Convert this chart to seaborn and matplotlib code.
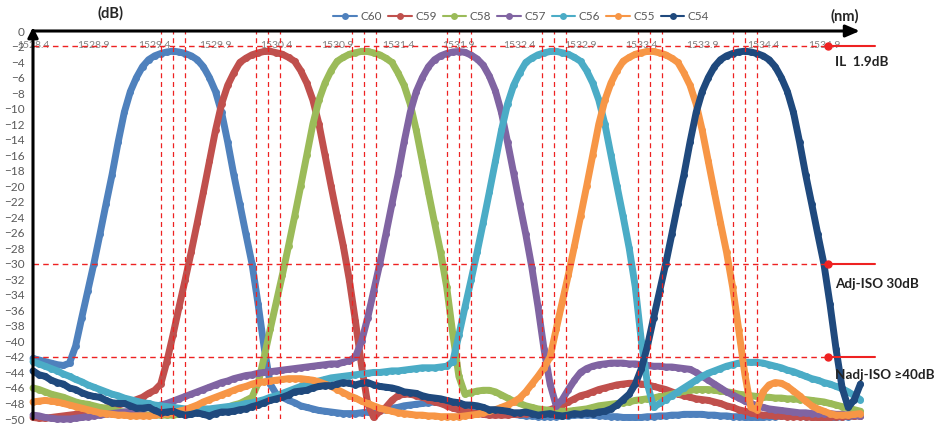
import matplotlib
matplotlib.use("Agg")
import matplotlib.pyplot as plt
import numpy as np
import pandas as pd
import seaborn as sns

# wavelength sampling of the spectra (nm), 0.05 nm steps from 1528.40 to 1535.20
wavelength = np.round(1528.4 + 0.05 * np.arange(137), 2)

channels = ["C60", "C59", "C58", "C57", "C56", "C55", "C54"]
colors = ["#4F81BD", "#C0504D", "#9BBB59", "#8064A2", "#4BACC6", "#F79646", "#1F497D"]

# insertion loss (dB)
c60 = [-42.2, -42.4, -42.6, -42.8, -43.0, -43.1, -42.8, -40.6, -37.0, -33.5,
       -30.0, -26.2, -22.3, -18.5, -14.3, -10.5, -7.8, -6.0, -4.6, -3.7,
       -3.2, -2.9, -2.7, -2.6, -2.7, -2.9, -3.2, -3.7, -4.6, -6.0,
       -7.8, -10.5, -14.3, -18.5, -22.3, -26.2, -30.0, -35.2, -40.8, -45.5,
       -46.8, -47.2, -47.6, -47.9, -48.3, -48.5, -48.7, -48.9, -49.0, -49.1,
       -49.2, -49.3, -49.3, -49.3, -49.2, -49.1, -49.0, -48.9, -48.8, -48.6,
       -48.5, -48.3, -48.2, -48.1, -48.0, -47.9, -47.8, -47.8, -47.8, -47.9,
       -48.0, -48.2, -48.3, -48.5, -48.7, -48.9, -49.0, -49.2, -49.3, -49.4,
       -49.5, -49.6, -49.6, -49.7, -49.7, -49.7, -49.7, -49.6, -49.6, -49.5,
       -49.5, -49.5, -49.5, -49.6, -49.6, -49.7, -49.7, -49.8, -49.8, -49.8,
       -49.8, -49.7, -49.7, -49.6, -49.6, -49.5, -49.5, -49.4, -49.4, -49.4,
       -49.4, -49.5, -49.5, -49.6, -49.6, -49.7, -49.7, -49.8, -49.8, -49.8,
       -49.8, -49.7, -49.7, -49.6, -49.6, -49.6, -49.6, -49.7, -49.7, -49.8,
       -49.8, -49.8, -49.8, -49.7, -49.7, -49.6, -49.6]
c59 = [-49.8, -49.9, -49.9, -49.8, -49.7, -49.6, -49.5, -49.4, -49.3, -49.1,
       -49.0, -48.8, -48.6, -48.4, -48.2, -48.0, -47.8, -47.5, -47.2, -46.7,
       -46.3, -45.5, -42.6, -39.2, -35.6, -32.1, -28.5, -24.7, -20.8, -16.8,
       -12.8, -9.4, -7.0, -5.4, -4.05, -3.5, -3.07, -2.82, -2.64, -2.62,
       -2.8, -3.0, -3.4, -3.9, -5.1, -6.7, -8.9, -12.0, -16.0, -20.0,
       -23.9, -27.7, -32.1, -37.4, -43.1, -48.0, -49.8, -49.0, -48.5, -47.6,
       -47.0, -46.8, -46.8, -47.0, -47.2, -47.5, -47.8, -48.0, -48.3, -48.6,
       -48.8, -49.0, -49.2, -49.3, -49.4, -49.5, -49.5, -49.5, -49.5, -49.4,
       -49.4, -49.3, -49.3, -49.2, -49.0, -48.8, -48.5, -48.2, -47.8, -47.4,
       -47.0, -46.8, -46.5, -46.2, -46.0, -45.8, -45.6, -45.5, -45.4, -45.4,
       -45.5, -45.6, -45.8, -46.0, -46.2, -46.5, -46.8, -47.0, -47.2, -47.4,
       -47.5, -47.6, -47.8, -48.0, -48.3, -48.5, -48.8, -49.0, -49.2, -49.4,
       -49.5, -49.5, -49.6, -49.6, -49.7, -49.7, -49.7, -49.7, -49.8, -49.8,
       -49.8, -49.8, -49.7, -49.7, -49.6, -49.6, -49.6]
c58 = [-46.0, -46.2, -46.5, -46.8, -47.0, -47.2, -47.5, -47.8, -48.0, -48.1,
       -48.3, -48.5, -48.6, -48.8, -49.0, -49.1, -49.2, -49.3, -49.4, -49.5,
       -49.5, -49.5, -49.5, -49.5, -49.4, -49.3, -49.2, -49.1, -49.0, -48.9,
       -48.8, -48.6, -48.5, -48.2, -48.0, -47.6, -47.2, -45.4, -42.0, -38.4,
       -34.9, -31.4, -27.7, -23.9, -20.0, -16.0, -12.0, -8.9, -6.7, -5.1,
       -3.9, -3.4, -3.0, -2.8, -2.62, -2.64, -2.82, -3.07, -3.5, -4.05,
       -5.4, -7.0, -9.4, -12.8, -16.8, -20.8, -24.7, -28.5, -33.0, -39.0,
       -44.5, -46.8, -46.6, -46.4, -46.3, -46.3, -46.5, -46.9, -47.3, -47.7,
       -48.0, -48.3, -48.5, -48.7, -48.8, -48.9, -49.0, -49.0, -49.0, -48.9,
       -48.8, -48.7, -48.5, -48.3, -48.2, -48.1, -48.0, -47.9, -47.8, -47.6,
       -47.5, -47.4, -47.3, -47.1, -47.0, -46.8, -46.6, -46.4, -46.3, -46.2,
       -46.2, -46.2, -46.3, -46.4, -46.5, -46.6, -46.8, -46.9, -47.0, -47.1,
       -47.2, -47.2, -47.3, -47.3, -47.4, -47.4, -47.5, -47.5, -47.6, -47.7,
       -47.8, -48.0, -48.2, -48.4, -48.6, -48.8, -49.0]
c57 = [-49.5, -49.6, -49.8, -49.9, -50.0, -50.0, -50.0, -49.9, -49.8, -49.7,
       -49.6, -49.5, -49.4, -49.3, -49.2, -49.1, -49.0, -48.8, -48.7, -48.5,
       -48.4, -48.2, -48.0, -47.7, -47.4, -47.1, -46.8, -46.5, -46.2, -45.9,
       -45.6, -45.3, -45.1, -44.8, -44.6, -44.4, -44.3, -44.1, -44.0, -43.9,
       -43.8, -43.7, -43.6, -43.5, -43.4, -43.3, -43.2, -43.1, -43.0, -42.9,
       -42.9, -42.7, -42.5, -42.0, -40.0, -37.0, -33.5, -30.0, -26.2, -22.3,
       -18.5, -14.3, -10.5, -7.8, -6.0, -4.6, -3.7, -3.2, -2.9, -2.7,
       -2.65, -2.75, -3.1, -3.6, -4.4, -5.8, -7.7, -10.5, -14.3, -18.3,
       -22.3, -26.2, -30.5, -35.5, -41.0, -45.5, -48.3, -47.5, -46.2, -45.0,
       -44.0, -43.5, -43.2, -43.0, -42.9, -42.8, -42.8, -42.8, -42.9, -42.9,
       -43.0, -43.1, -43.2, -43.2, -43.3, -43.3, -43.4, -43.5, -43.6, -44.0,
       -44.5, -45.0, -45.5, -46.0, -46.5, -46.9, -47.3, -47.7, -48.0, -48.3,
       -48.5, -48.7, -48.8, -48.9, -49.0, -49.1, -49.2, -49.2, -49.3, -49.3,
       -49.3, -49.3, -49.4, -49.4, -49.5, -49.5, -49.6]
c56 = [-42.6, -42.9, -43.2, -43.5, -43.8, -44.2, -44.5, -44.9, -45.2, -45.6,
       -45.9, -46.2, -46.5, -46.8, -47.0, -47.3, -47.5, -47.7, -47.9, -48.0,
       -48.2, -48.3, -48.4, -48.5, -48.6, -48.7, -48.7, -48.7, -48.7, -48.7,
       -48.6, -48.5, -48.4, -48.3, -48.2, -48.0, -47.9, -47.7, -47.5, -47.2,
       -47.0, -46.7, -46.4, -46.1, -45.8, -45.5, -45.3, -45.1, -44.9, -44.7,
       -44.6, -44.5, -44.4, -44.3, -44.2, -44.1, -44.0, -44.0, -43.9, -43.8,
       -43.8, -43.7, -43.6, -43.5, -43.4, -43.4, -43.4, -43.3, -43.2, -42.6,
       -39.2, -35.6, -32.1, -28.5, -24.7, -20.8, -16.8, -12.8, -9.4, -7.0,
       -5.4, -4.05, -3.5, -3.07, -2.82, -2.64, -2.62, -2.8, -3.0, -3.4,
       -3.9, -5.1, -6.7, -8.9, -12.0, -16.0, -20.0, -23.9, -28.0, -33.0,
       -40.0, -45.5, -48.5, -48.0, -47.5, -47.0, -46.5, -46.0, -45.5, -45.0,
       -44.5, -44.1, -43.8, -43.5, -43.2, -43.0, -42.8, -42.7, -42.7, -42.7,
       -42.8, -43.0, -43.2, -43.4, -43.7, -43.9, -44.2, -44.5, -44.8, -45.0,
       -45.3, -45.5, -45.8, -46.1, -46.5, -47.0, -47.5]
c55 = [-47.8, -47.7, -47.6, -47.7, -47.8, -48.0, -48.2, -48.4, -48.6, -48.8,
       -49.0, -49.2, -49.3, -49.4, -49.5, -49.5, -49.6, -49.6, -49.6, -49.6,
       -49.5, -49.4, -49.3, -49.2, -49.0, -48.8, -48.5, -48.2, -47.8, -47.5,
       -47.2, -46.9, -46.6, -46.3, -46.0, -45.8, -45.5, -45.3, -45.2, -45.1,
       -45.0, -44.9, -44.8, -44.8, -44.8, -44.9, -45.0, -45.2, -45.5, -45.8,
       -46.2, -46.6, -47.0, -47.3, -47.7, -48.0, -48.3, -48.6, -48.8, -49.0,
       -49.2, -49.3, -49.4, -49.5, -49.5, -49.6, -49.6, -49.7, -49.7, -49.7,
       -49.7, -49.6, -49.5, -49.4, -49.2, -49.0, -48.8, -48.5, -48.2, -47.8,
       -47.3, -46.5, -45.5, -44.5, -43.4, -42.0, -38.4, -34.9, -31.4, -27.7,
       -23.9, -20.0, -16.0, -12.0, -8.9, -6.7, -5.1, -3.9, -3.4, -3.0,
       -2.8, -2.62, -2.64, -2.82, -3.07, -3.5, -4.05, -5.4, -7.0, -9.4,
       -12.8, -16.8, -20.8, -24.7, -28.5, -33.0, -38.5, -44.2, -48.5, -48.8,
       -46.5, -45.6, -45.3, -45.4, -45.8, -46.4, -47.0, -47.7, -48.3, -48.7,
       -49.0, -49.3, -49.5, -49.5, -49.5, -49.4, -49.3]
c54 = [-43.8, -44.3, -44.5, -45.0, -45.3, -45.5, -46.0, -46.2, -46.6, -46.9,
       -47.1, -47.2, -47.6, -47.9, -48.0, -48.0, -48.3, -48.6, -48.6, -48.5,
       -48.9, -49.2, -49.1, -49.0, -49.3, -49.5, -49.4, -49.2, -49.4, -49.6,
       -49.3, -49.1, -49.1, -49.0, -48.8, -48.7, -48.4, -48.2, -47.9, -47.6,
       -47.4, -47.2, -46.9, -46.5, -46.4, -46.3, -46.0, -45.8, -45.7, -45.7,
       -45.5, -45.3, -45.4, -45.6, -45.4, -45.3, -45.6, -45.8, -45.9, -46.0,
       -46.2, -46.5, -46.6, -46.7, -47.0, -47.2, -47.3, -47.4, -47.6, -47.8,
       -47.9, -48.2, -48.2, -48.3, -48.5, -48.8, -48.8, -48.9, -49.0, -49.2,
       -49.2, -49.1, -49.3, -49.5, -49.4, -49.3, -49.5, -49.6, -49.5, -49.3,
       -49.4, -49.2, -49.3, -49.1, -49.0, -48.7, -48.2, -47.5, -46.8, -45.5,
       -43.5, -40.6, -37.0, -33.5, -30.0, -26.2, -22.3, -18.5, -14.3, -10.5,
       -7.8, -6.0, -4.6, -3.7, -3.2, -2.9, -2.7, -2.6, -2.7, -2.9,
       -3.2, -3.7, -4.6, -6.0, -7.8, -10.5, -14.3, -18.5, -22.3, -26.2,
       -30.0, -35.2, -41.0, -46.0, -48.5, -47.5, -45.5]
series = [c60, c59, c58, c57, c56, c55, c54]

# ITU channel centres and passband edges (nm)
centers = [1529.55, 1530.33, 1531.12, 1531.90, 1532.68, 1533.47, 1534.25]
passband = 0.1

ref_levels = [-1.9, -30, -42]
ref_labels = ["IL  1.9dB", "Adj-ISO 30dB", "Nadj-ISO \u226540dB"]
ref_label_y = [-4.0, -32.6, -44.3]
ref_end = 1534.93

x_ticks = [1528.4, 1528.9, 1529.4, 1529.9, 1530.4, 1530.9, 1531.4,
           1531.9, 1532.4, 1532.9, 1533.4, 1533.9, 1534.4, 1534.9]
y_ticks = list(range(0, -51, -2))

sns.set_theme(style="white")
plt.rcParams["font.family"] = ["Lato", "DejaVu Sans"]

df = pd.DataFrame({
    "wavelength": np.tile(wavelength, len(channels)),
    "loss": np.concatenate(series),
    "channel": np.repeat(channels, len(wavelength)),
})

red = "#EE2222"
fig = plt.figure(figsize=(9.4, 4.29), dpi=100)
ax = fig.add_axes([33 / 940, 10 / 429, 842 / 940, 388 / 429])

sns.lineplot(data=df, x="wavelength", y="loss", hue="channel", hue_order=channels,
             palette=dict(zip(channels, colors)), linewidth=5, marker="o",
             markersize=5, markeredgewidth=0, estimator=None, sort=False,
             ax=ax, clip_on=False, zorder=2)

# red reference lines
for c in centers:
    for d in (-passband, 0, passband):
        ax.axvline(c + d, color=red, lw=0.9, ls=(0, (4, 3)), zorder=3)
for y in ref_levels:
    ax.plot([x_ticks[0], ref_end], [y, y], color=red, lw=1, ls=(0, (4, 3)), zorder=3)
    ax.plot([ref_end, 1535.32], [y, y], color=red, lw=1.5, zorder=3, clip_on=False)
    ax.plot([ref_end], [y], "o", color=red, ms=5, zorder=3, clip_on=False)
for lab, y in zip(ref_labels, ref_label_y):
    ax.text(0.9525, y, lab, transform=ax.get_yaxis_transform(), ha="left", va="center",
            fontsize=9.7, fontweight="bold", color="#222222", clip_on=False)

ax.set_xlim(1528.4, 1535.32)
ax.set_ylim(-50, 0)
ax.set_xticks(x_ticks)
ax.set_xticklabels([f"{v:.1f}" for v in x_ticks])
ax.set_yticks(y_ticks)
ax.tick_params(axis="x", bottom=False, labelbottom=False, top=False, labeltop=True,
               length=0, pad=-14, labelsize=7.5, labelcolor="#808080")
ax.tick_params(axis="y", left=False, length=0, pad=6, labelsize=8.5, labelcolor="#595959")
ax.set_xlabel("")
ax.set_ylabel("")
for s in ax.spines.values():
    s.set_visible(False)

# axis arrows
ax.annotate("", xy=(0.982, 1), xytext=(0, 1), xycoords="axes fraction",
            arrowprops=dict(arrowstyle="-|>,head_length=0.7,head_width=0.3",
                            color="black", lw=2.2, shrinkA=0, shrinkB=0))
ax.annotate("", xy=(0, 1.01), xytext=(0, 0), xycoords="axes fraction",
            arrowprops=dict(arrowstyle="-|>,head_length=0.5,head_width=0.25",
                            color="black", lw=2.2, shrinkA=0, shrinkB=0))
fig.text(111 / 940, 1 - 13 / 429, "(dB)", ha="center", va="center", fontsize=10.5, fontweight="bold")
fig.text(845 / 940, 1 - 16 / 429, "(nm)", ha="center", va="center", fontsize=10.5, fontweight="bold")

handles, labels = ax.get_legend_handles_labels()
leg = ax.legend(handles, labels, ncol=7, loc="center", bbox_to_anchor=(0.58, 1.037),
                frameon=False, fontsize=8.5, handlelength=2, handletextpad=0.3,
                columnspacing=0.5, borderaxespad=0)
for h in leg.legend_handles:
    h.set_linewidth(1.5)
    h.set_markersize(5)
for t in leg.get_texts():
    t.set_color("#595959")

fig.savefig("out.png", dpi=100)
